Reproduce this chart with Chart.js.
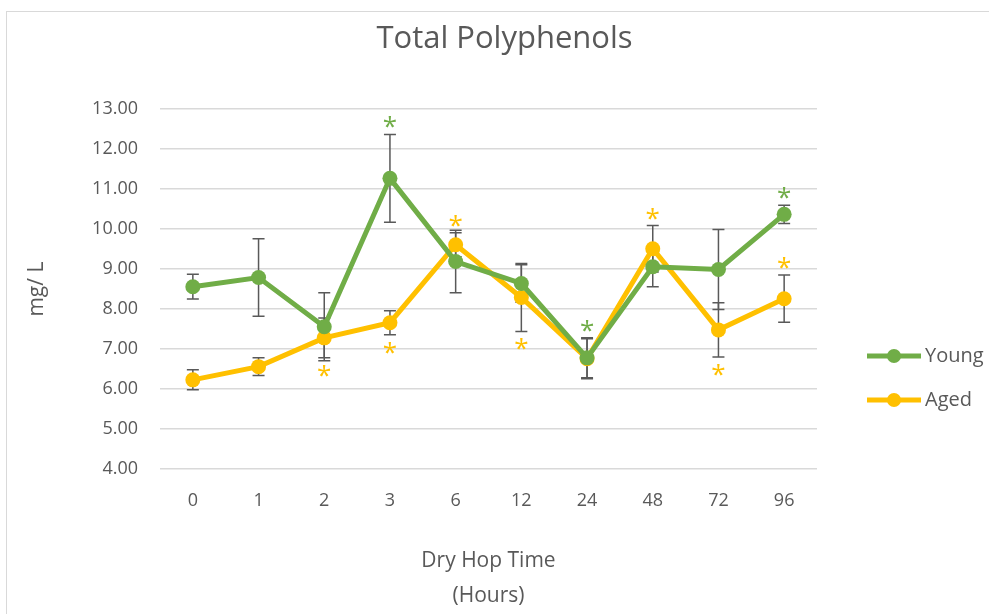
<!DOCTYPE html>
<html>
<head>
<meta charset="utf-8">
<script src="https://cdn.jsdelivr.net/npm/chart.js@4"></script>
<style>
  html, body { margin: 0; padding: 0; background: #fff; overflow: hidden; }
  #frame { position: absolute; left: 6px; top: 11px; width: 1100px; height: 700px; border: 1px solid #d9d9d9; }
  #chart { position: absolute; left: 0; top: 0; }
</style>
</head>
<body>
<div id="frame"></div>
<canvas id="chart" width="989" height="614"></canvas>
<script>
// data
const hours = ['0', '1', '2', '3', '6', '12', '24', '48', '72', '96'];
const young = [8.56, 8.79, 7.56, 11.27, 9.19, 8.64, 6.78, 9.06, 8.99, 10.37];
const youngErr = [0.31, 0.97, 0.85, 1.10, 0.78, 0.47, 0.50, 0.50, 1.00, 0.23];
const aged = [6.23, 6.56, 7.28, 7.66, 9.61, 8.29, 6.76, 9.51, 7.48, 8.26];
const agedErr = [0.25, 0.22, 0.50, 0.30, 0.30, 0.85, 0.50, 0.58, 0.68, 0.59];
// where the significance asterisk sits: above / below the error bar, or none
const youngStar = ['', '', '', 'above', '', '', 'above', '', '', 'above'];
const agedStar = ['', '', 'below', 'below', 'above', 'below', '', 'above', 'below', 'above'];

const FONT = "'Open Sans', sans-serif";
const TEXT = '#595959';

const errorBars = {
    id: 'errorBars',
    beforeDatasetsDraw(chart) {
        const ctx = chart.ctx;
        const y = chart.scales.y;
        ctx.save();
        ctx.strokeStyle = '#595959';
        ctx.lineWidth = 1.5;
        chart.data.datasets.forEach((ds, i) => {
            const meta = chart.getDatasetMeta(i);
            meta.data.forEach((pt, j) => {
                const top = y.getPixelForValue(ds.data[j] + ds.err[j]);
                const bot = y.getPixelForValue(ds.data[j] - ds.err[j]);
                ctx.beginPath();
                ctx.moveTo(pt.x, top); ctx.lineTo(pt.x, bot);
                ctx.moveTo(pt.x - 6, top); ctx.lineTo(pt.x + 6, top);
                ctx.moveTo(pt.x - 6, bot); ctx.lineTo(pt.x + 6, bot);
                ctx.stroke();
            });
        });
        ctx.restore();
    },
    afterDatasetsDraw(chart) {
        const ctx = chart.ctx;
        const y = chart.scales.y;
        ctx.save();
        ctx.font = '26px ' + FONT;
        ctx.textAlign = 'center';
        ctx.textBaseline = 'alphabetic';
        const m = ctx.measureText('*');
        const shift = (m.actualBoundingBoxAscent - m.actualBoundingBoxDescent) / 2;
        chart.data.datasets.forEach((ds, i) => {
            const meta = chart.getDatasetMeta(i);
            ctx.fillStyle = ds.borderColor;
            meta.data.forEach((pt, j) => {
                const s = ds.star[j];
                if (!s) return;
                let py;
                if (s === 'above') py = y.getPixelForValue(ds.data[j] + ds.err[j]) - 12;
                else py = y.getPixelForValue(ds.data[j] - ds.err[j]) + 13;
                ctx.fillText('*', pt.x, py + shift);
            });
        });
        ctx.restore();
    }
};

const sideLegend = {
    id: 'sideLegend',
    afterDraw(chart) {
        const ctx = chart.ctx;
        const x0 = chart.chartArea.right + 50;
        ctx.save();
        ctx.font = '20px ' + FONT;
        ctx.textBaseline = 'middle';
        chart.data.datasets.forEach((ds, i) => {
            const cy = 356 + i * 44;
            ctx.strokeStyle = ds.borderColor;
            ctx.lineWidth = 5;
            ctx.beginPath();
            ctx.moveTo(x0, cy); ctx.lineTo(x0 + 54, cy);
            ctx.stroke();
            ctx.fillStyle = ds.borderColor;
            ctx.beginPath();
            ctx.arc(x0 + 27, cy, 7, 0, Math.PI * 2);
            ctx.fill();
            ctx.fillStyle = TEXT;
            ctx.fillText(ds.label, x0 + 58, cy);
        });
        ctx.restore();
    }
};

function series(label, data, err, star, color) {
    return {
        label, data, err, star,
        borderColor: color,
        backgroundColor: color,
        pointBackgroundColor: color,
        pointBorderColor: color,
        borderWidth: 5,
        pointRadius: 7.5,
        pointBorderWidth: 0,
        tension: 0
    };
}

new Chart(document.getElementById('chart'), {
    type: 'line',
    data: {
        labels: hours,
        datasets: [
            series('Young', young, youngErr, youngStar, '#70AD47'),
            series('Aged', aged, agedErr, agedStar, '#FFC000')
        ]
    },
    options: {
        responsive: false,
        animation: false,
        layout: { padding: { left: 20, top: 11, right: 0, bottom: 0 } },
        plugins: {
            legend: { display: false },
            tooltip: { enabled: false },
            title: {
                display: true,
                text: 'Total Polyphenols',
                color: TEXT,
                font: { family: FONT, size: 31, weight: 'normal' },
                padding: { top: 10, bottom: 51 }
            }
        },
        scales: {
            x: {
                offset: true,
                grid: { display: false, drawTicks: false },
                border: { display: false },
                ticks: { color: TEXT, font: { family: FONT, size: 18 }, padding: 21 },
                title: {
                    display: true,
                    text: ['Dry Hop Time', '(Hours)'],
                    color: TEXT,
                    font: { family: FONT, size: 21, lineHeight: 1.67 },
                    padding: 0
                },
                afterFit(s) { s.height = 145; }
            },
            y: {
                min: 4, max: 13,
                ticks: {
                    stepSize: 1,
                    color: TEXT,
                    font: { family: FONT, size: 18 },
                    padding: 22,
                    callback: v => v.toFixed(2)
                },
                grid: { color: '#d9d9d9', lineWidth: 1.5, drawTicks: false },
                border: { display: false },
                title: {
                    display: true,
                    text: 'mg/ L',
                    color: TEXT,
                    font: { family: FONT, size: 21 },
                    padding: { top: 4, bottom: 4 }
                },
                afterFit(s) { s.width = 140; }
            },
            yR: {
                position: 'right',
                display: true,
                grid: { display: false, drawTicks: false },
                border: { display: false },
                ticks: { display: false },
                afterFit(s) { s.width = 172; }
            }
        }
    },
    plugins: [errorBars, sideLegend]
});
</script>
</body>
</html>
